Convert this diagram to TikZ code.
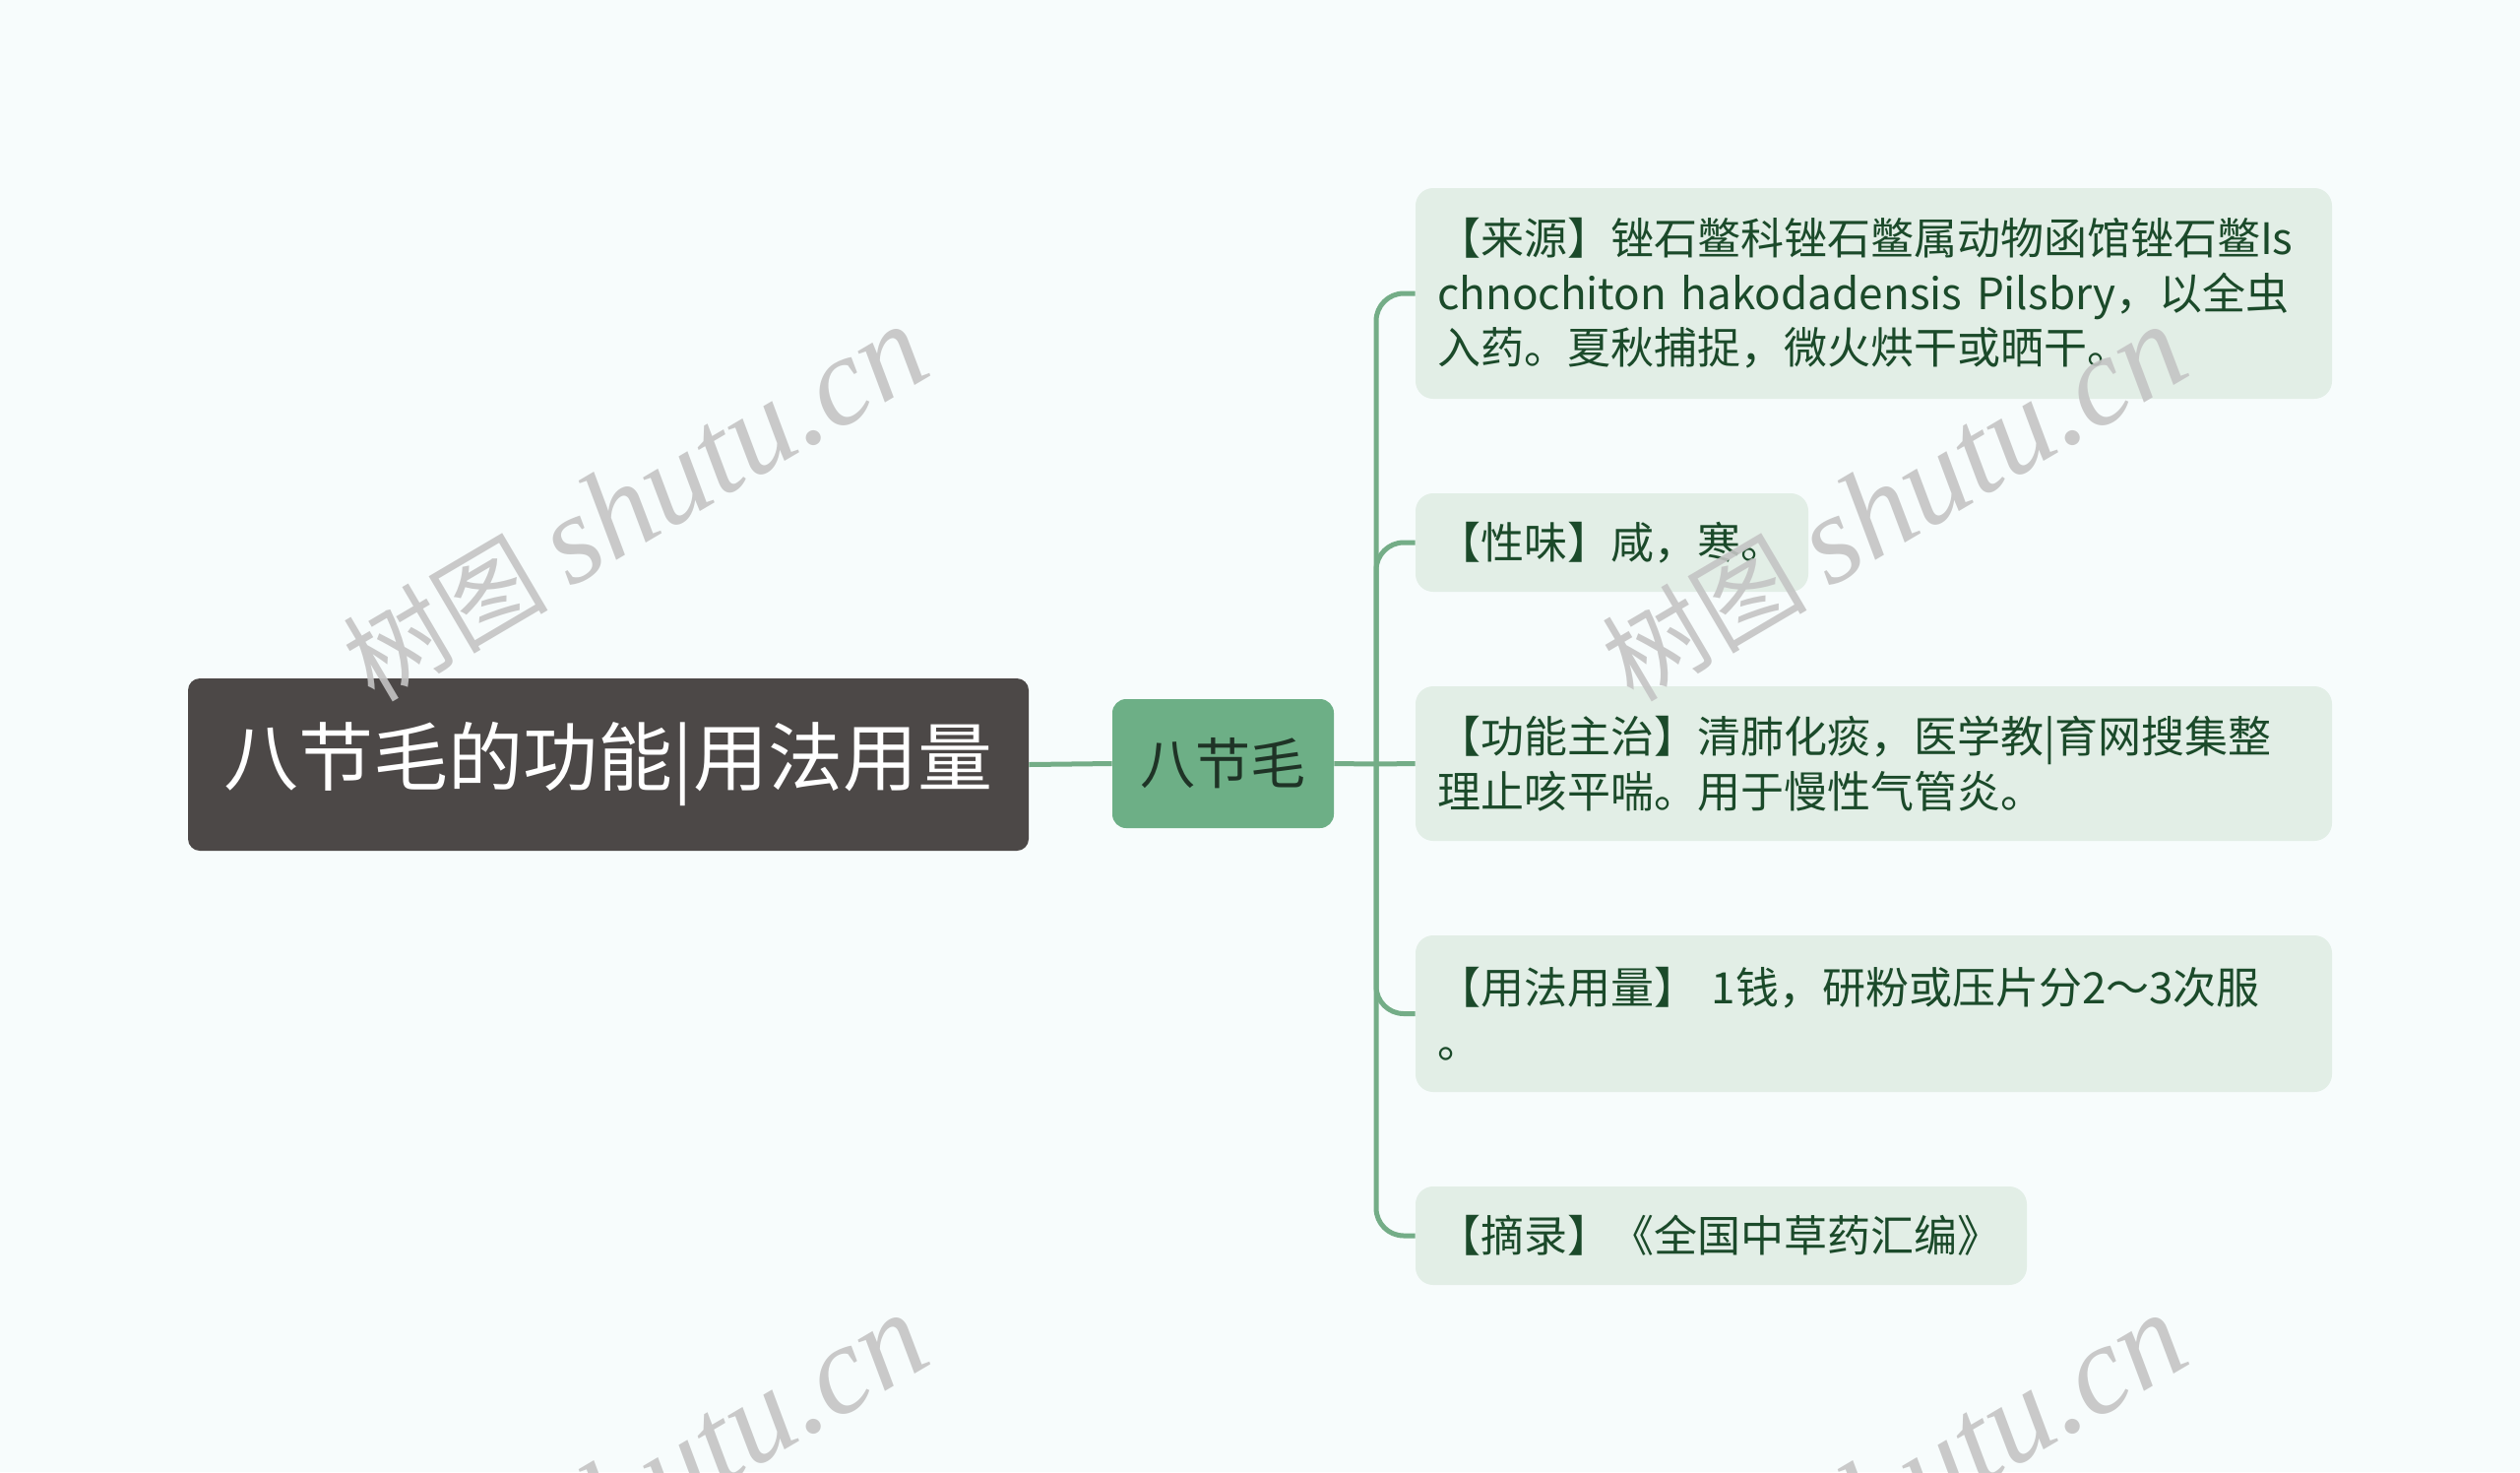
\documentclass[tikz,border=0pt]{standalone}
\usepackage{fontspec}
\setmainfont{Noto Sans CJK SC}
\newfontfamily\wmlatin{Liberation Serif}
\newfontfamily\wmcjk{Noto Sans CJK SC}
\definecolor{bgc}{HTML}{F7FCFC}
\definecolor{rootfill}{HTML}{4C4847}
\definecolor{midfill}{HTML}{6DAF86}
\definecolor{midtext}{HTML}{1F3326}
\definecolor{linec}{HTML}{74AD87}
\definecolor{leaffill}{HTML}{E2EEE6}
\definecolor{leaftext}{HTML}{1B4A2A}
\definecolor{wmc}{HTML}{C4C4C4}
\tikzset{
  rootbox/.style={fill=rootfill, text=white, rounded corners=6pt, minimum width=427pt, minimum height=87.5pt, inner sep=0pt, font=\fontsize{38pt}{44pt}\selectfont},
  midbox/.style={fill=midfill, text=midtext, rounded corners=7pt, minimum width=112.5pt, minimum height=65.5pt, inner sep=0pt, font=\fontsize{28pt}{32pt}\selectfont},
  leafbox/.style={fill=leaffill, text=leaftext, rounded corners=9pt, inner xsep=11pt, inner ysep=0pt, align=left, font=\fontsize{22pt}{27.7pt}\selectfont},
  conn/.style={draw=linec, line width=2.5pt, rounded corners=14pt},
  wm/.style={text=wmc, rotate=30.5, inner sep=0pt, opacity=0.9}
}
\newcommand{\wmtext}{{\wmcjk\fontsize{52pt}{56pt}\selectfont 树图 \wmlatin\itshape\fontsize{64pt}{68pt}\selectfont shutu.cn}}
\begin{document}
\begin{tikzpicture}[x=0.5pt,y=-0.5pt]
\useasboundingbox (0,0) rectangle (2560,1495);
\fill[bgc] (0,0) rectangle (2560,1495);

\node[rootbox] (root) at (618,776.5) {八节毛的功能|用法用量};
\node[midbox] (mid) at (1242.5,775.5) {八节毛};

\node[leafbox, text width=443.5pt, minimum height=107pt] (l1) at (1903.5,298) {【来源】锉石鳖科锉石鳖属动物函馆锉石鳖Is\\chnochiton hakodadensis Pilsbry，以全虫\\入药。夏秋捕捉，微火烘干或晒干。};
\node[leafbox, text width=177.5pt, minimum height=50pt] (l2) at (1637.5,551) {【性味】咸，寒。};
\node[leafbox, text width=443.5pt, minimum height=78.5pt] (l3) at (1903.5,775.5) {【功能主治】清肺化痰，医学教|育网搜集整\\理止咳平喘。用于慢性气管炎。};
\node[leafbox, text width=443.5pt, minimum height=79.5pt] (l4) at (1903.5,1029.5) {【用法用量】 1钱，研粉或压片分2～3次服\\。};
\node[leafbox, text width=288.5pt, minimum height=50pt] (l5) at (1748.5,1255) {【摘录】《全国中草药汇编》};

\coordinate (trunk) at (1398,776);
\draw[conn] (root.east) -- (mid.west);
\draw[conn] (mid.east) -- (trunk);
\draw[conn] (trunk) |- (l1.west);
\draw[conn] (trunk) |- (l2.west);
\draw[conn] (trunk) -- (l3.west);
\draw[conn] (trunk) |- (l4.west);
\draw[conn] (trunk) |- (l5.west);

\begin{scope}
\clip (0,0) rectangle (2560,1495);
\node[wm] (wm1) at (645,512) {\wmtext};
\node[wm] (wm2) at (1924,512) {\wmtext};
\node[wm] (wm3) at (645,1516) {\wmtext};
\node[wm] (wm4) at (1924,1516) {\wmtext};
\end{scope}
\end{tikzpicture}
\end{document}
